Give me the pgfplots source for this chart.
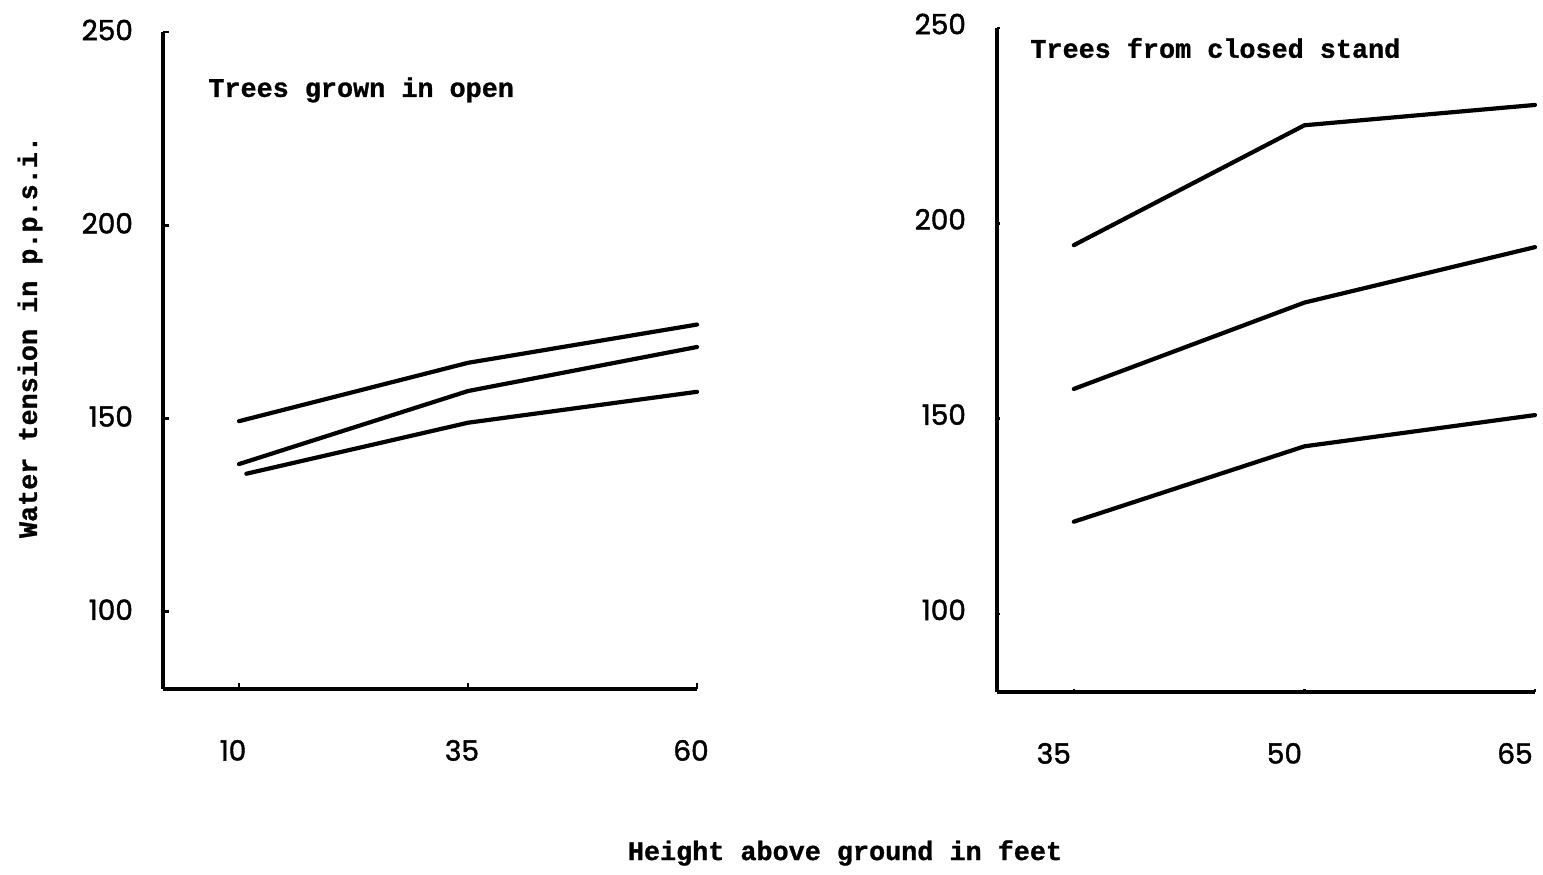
\documentclass[border=0pt]{standalone}
\usepackage{pgfplots}
\pgfplotsset{compat=1.18}
\usepackage{fontspec}
\setmainfont{Liberation Mono}[BoldFeatures={FakeBold=1}]
\newfontfamily\numfont{Poppins}[FakeBold=1.5]

\begin{document}
\begin{tikzpicture}
\useasboundingbox (0pt,0pt) rectangle (771.5pt,437pt);
\pgfplotsset{
  panel/.style={
    scale only axis,
    axis x line*=bottom, axis y line*=left,
    every outer x axis line/.append style={-, line width=1.7pt, black},
    every outer y axis line/.append style={-, line width=1.7pt, black},
    ymin=80, ymax=250,
    ytick={100,150,200,250},
    tick align=inside,
    major tick length=3pt,
    tick style={line width=1.3pt, black},
    /pgf/number format/assume math mode=true,
    ticklabel style={font=\fontsize{14}{16}\selectfont\numfont},
    clip=false,
  },
  curve/.style={black, line width=2.1pt, mark=none, line cap=round, line join=round},
}

% Trees grown in the open
\begin{axis}[panel,
  at={(81.5pt,92.5pt)}, anchor=south west,
  width=267pt, height=328.5pt,
  xmin=1.7, xmax=60, xtick={10,35,60},
  xticklabel style={yshift=-22pt, xshift=-3pt},
  yticklabel style={xshift=-11.5pt, yshift=1pt}]
\addplot[curve] coordinates {(10,149.3) (35,164.4) (60,174.3)};
\addplot[curve] coordinates {(10,138.2) (35,157.1) (60,168.5)};
\addplot[curve] coordinates {(10.8,135.7) (35,148.9) (60,156.9)};
\end{axis}

% Trees from a closed stand
\begin{axis}[panel,
  at={(498.5pt,91pt)}, anchor=south west,
  width=269pt, height=332pt,
  xmin=30, xmax=65, xtick={35,50,65},
  major tick length=1.5pt,
  xticklabel style={yshift=-22pt, xshift=-10pt},
  yticklabel style={xshift=-12pt, yshift=2pt}]
\addplot[curve] coordinates {(35,194.4) (50,225.1) (65,230.3)};
\addplot[curve] coordinates {(35,157.6) (50,179.7) (65,193.9)};
\addplot[curve] coordinates {(35,123.6) (50,142.9) (65,150.9)};
\end{axis}

\begin{scope}[font=\fontsize{13.4}{16}\selectfont\bfseries]
\node[anchor=west, inner sep=0pt] at (104pt,392pt) {Trees grown in open};
\node[anchor=west, inner sep=0pt] at (515pt,413pt) {Trees from closed stand};
\node[inner sep=0pt] at (422.5pt,10.5pt) {Height above ground in feet};
\node[inner sep=0pt, rotate=90] at (15pt,268.5pt) {Water tension in p.p.s.i.};
\end{scope}
\end{tikzpicture}
\end{document}
